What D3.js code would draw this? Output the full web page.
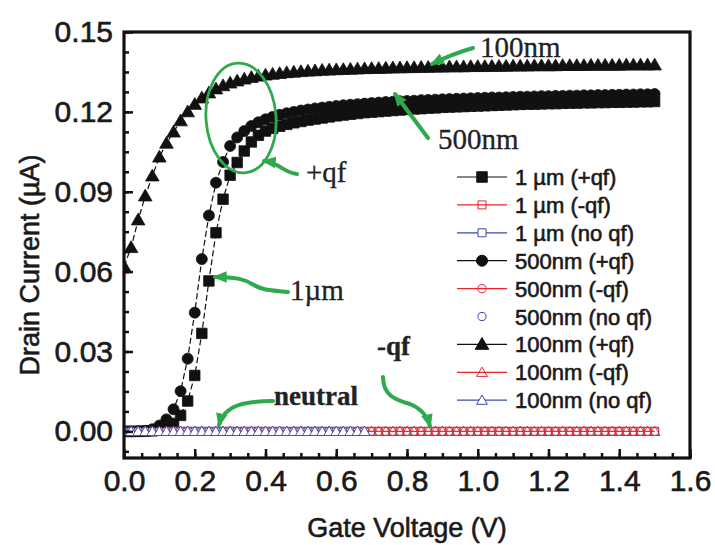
<!DOCTYPE html>
<html>
<head>
    <title>Drain Current vs Gate Voltage</title>
    <script src="https://d3js.org/d3.v7.min.js"></script>
    <style>
        body {
            margin: 0;
            background-color: white;
        }
        svg text {
            font-family: "Liberation Sans", Arial, sans-serif;
            fill: #1a1a1a;
            stroke: #1a1a1a;
            stroke-width: 0.6px;
        }
        svg text.note {
            font-family: "Liberation Serif", "Times New Roman", serif;
            fill: #222;
            stroke: #222;
            stroke-width: 0.3px;
        }
        .domain { display: none; }
    </style>
</head>
<body>
    <div id="chart"></div>
    <script>
        // gate voltage sweep (V)
        const voltage = [0.00, 0.02, 0.04, 0.06, 0.08, 0.10, 0.12, 0.14, 0.16, 0.18,
            0.20, 0.22, 0.24, 0.26, 0.28, 0.30, 0.32, 0.34, 0.36, 0.38,
            0.40, 0.42, 0.44, 0.46, 0.48, 0.50, 0.52, 0.54, 0.56, 0.58,
            0.60, 0.62, 0.64, 0.66, 0.68, 0.70, 0.72, 0.74, 0.76, 0.78,
            0.80, 0.82, 0.84, 0.86, 0.88, 0.90, 0.92, 0.94, 0.96, 0.98,
            1.00, 1.02, 1.04, 1.06, 1.08, 1.10, 1.12, 1.14, 1.16, 1.18,
            1.20, 1.22, 1.24, 1.26, 1.28, 1.30, 1.32, 1.34, 1.36, 1.38,
            1.40, 1.42, 1.44, 1.46, 1.48, 1.50];

        // drain current (uA), +qf
        const iPos1um = [0.0000, 0.0000, 0.0000, 0.0001, 0.0002, 0.0005, 0.0012, 0.0030, 0.0060, 0.0114,
            0.0210, 0.0368, 0.0565, 0.0746, 0.0872, 0.0962, 0.1010, 0.1053, 0.1087, 0.1112,
            0.1128, 0.1138, 0.1146, 0.1153, 0.1159, 0.1164, 0.1169, 0.1173, 0.1177, 0.1181,
            0.1185, 0.1188, 0.1191, 0.1194, 0.1197, 0.1199, 0.1201, 0.1203, 0.1205, 0.1207,
            0.1209, 0.1211, 0.1212, 0.1214, 0.1215, 0.1217, 0.1218, 0.1219, 0.1220, 0.1221,
            0.1222, 0.1223, 0.1224, 0.1225, 0.1226, 0.1227, 0.1228, 0.1229, 0.1229, 0.1230,
            0.1231, 0.1231, 0.1232, 0.1233, 0.1233, 0.1234, 0.1234, 0.1235, 0.1235, 0.1236,
            0.1236, 0.1237, 0.1237, 0.1238, 0.1238, 0.1239];

        const iPos500nm = [0.0000, 0.0000, 0.0001, 0.0002, 0.0008, 0.0022, 0.0045, 0.0083, 0.0151, 0.0273,
            0.0446, 0.0647, 0.0811, 0.0934, 0.1012, 0.1072, 0.1104, 0.1128, 0.1147, 0.1161,
            0.1172, 0.1181, 0.1189, 0.1195, 0.1200, 0.1205, 0.1209, 0.1213, 0.1216, 0.1219,
            0.1222, 0.1225, 0.1227, 0.1229, 0.1231, 0.1233, 0.1235, 0.1237, 0.1238, 0.1240,
            0.1241, 0.1242, 0.1244, 0.1245, 0.1246, 0.1247, 0.1248, 0.1249, 0.1250, 0.1251,
            0.1252, 0.1253, 0.1254, 0.1254, 0.1255, 0.1256, 0.1257, 0.1257, 0.1258, 0.1259,
            0.1259, 0.1260, 0.1260, 0.1261, 0.1261, 0.1262, 0.1262, 0.1263, 0.1263, 0.1264,
            0.1264, 0.1265, 0.1265, 0.1266, 0.1266, 0.1267];

        const iPos100nm = [0.0620, 0.0690, 0.0794, 0.0884, 0.0959, 0.1030, 0.1082, 0.1124, 0.1166, 0.1200,
            0.1228, 0.1252, 0.1271, 0.1286, 0.1298, 0.1308, 0.1316, 0.1323, 0.1329, 0.1334,
            0.1338, 0.1341, 0.1344, 0.1347, 0.1349, 0.1351, 0.1353, 0.1354, 0.1356, 0.1357,
            0.1358, 0.1359, 0.1360, 0.1361, 0.1362, 0.1363, 0.1363, 0.1364, 0.1365, 0.1365,
            0.1366, 0.1366, 0.1367, 0.1367, 0.1368, 0.1368, 0.1369, 0.1369, 0.1369, 0.1370,
            0.1370, 0.1370, 0.1371, 0.1371, 0.1371, 0.1372, 0.1372, 0.1372, 0.1373, 0.1373,
            0.1373, 0.1373, 0.1374, 0.1374, 0.1374, 0.1374, 0.1375, 0.1375, 0.1375, 0.1375,
            0.1375, 0.1376, 0.1376, 0.1376, 0.1376, 0.1376];

        // -qf and no qf stay at zero for every length
        const iNegQf = [0, 0, 0, 0, 0, 0, 0, 0, 0, 0, 0, 0, 0, 0, 0, 0, 0, 0, 0, 0,
            0, 0, 0, 0, 0, 0, 0, 0, 0, 0, 0, 0, 0, 0, 0, 0, 0, 0, 0, 0,
            0, 0, 0, 0, 0, 0, 0, 0, 0, 0, 0, 0, 0, 0, 0, 0, 0, 0, 0, 0,
            0, 0, 0, 0, 0, 0, 0, 0, 0, 0, 0, 0, 0, 0, 0, 0];
        const iNoQf = [0, 0, 0, 0, 0, 0, 0, 0, 0, 0, 0, 0, 0, 0, 0, 0, 0, 0, 0, 0,
            0, 0, 0, 0, 0, 0, 0, 0, 0, 0, 0, 0, 0, 0, 0, 0, 0, 0, 0, 0,
            0, 0, 0, 0, 0, 0, 0, 0, 0, 0, 0, 0, 0, 0, 0, 0, 0, 0, 0, 0,
            0, 0, 0, 0, 0, 0, 0, 0, 0, 0, 0, 0, 0, 0, 0, 0];

        const xTicks = [0.0, 0.2, 0.4, 0.6, 0.8, 1.0, 1.2, 1.4, 1.6];
        const yTicks = [0.00, 0.03, 0.06, 0.09, 0.12, 0.15];

        const RED = "#e8272c", BLUE = "#3a4ba6", GREEN = "#2eaa4c";

        // legend order = draw order
        const series = [
            { label: "1 \u00b5m (+qf)", y: iPos1um, shape: "square", color: "#111", fill: "#111", dash: "6,3", line: true, maxV: 1.5 },
            { label: "1 \u00b5m (-qf)", y: iNegQf, shape: "square", color: RED, fill: "none", dash: null, line: true, maxV: 1.5 },
            { label: "1 \u00b5m (no qf)", y: iNoQf, shape: "square", color: BLUE, fill: "white", dash: null, line: true, maxV: 1.5 },
            { label: "500nm (+qf)", y: iPos500nm, shape: "circle", color: "#111", fill: "#111", dash: "6,3", line: true, maxV: 1.5 },
            { label: "500nm (-qf)", y: iNegQf, shape: "circle", color: RED, fill: "none", dash: null, line: true, maxV: 1.5 },
            { label: "500nm (no qf)", y: iNoQf, shape: "circle", color: BLUE, fill: "white", dash: null, line: false, maxV: 0.68 },
            { label: "100nm (+qf)", y: iPos100nm, shape: "triangle", color: "#111", fill: "#111", dash: "6,3", line: true, maxV: 1.5 },
            { label: "100nm (-qf)", y: iNegQf, shape: "triangle", color: RED, fill: "none", dash: null, line: true, maxV: 1.5 },
            { label: "100nm (no qf)", y: iNoQf, shape: "triangle", color: BLUE, fill: "white", dash: null, line: true, maxV: 0.68 }
        ];

        const width = 715, height = 545;
        const margin = { left: 124, right: 25, top: 32, bottom: 87 };

        const svg = d3.select("#chart").append("svg")
            .attr("width", width)
            .attr("height", height);

        const x = d3.scaleLinear().domain([0, 1.6]).range([margin.left, width - margin.right]);
        const y = d3.scaleLinear().domain([-0.01, 0.15]).range([height - margin.bottom, margin.top]);

        const symbols = {
            square: d3.symbolSquare,
            circle: d3.symbolCircle,
            triangle: d3.symbolTriangle
        };

        function markerPath(shape, big) {
            const area = {
                square: big ? 110 : 64,
                circle: big ? 95 : 52,
                triangle: big ? 80 : 50
            }[shape];
            return d3.symbol().type(symbols[shape]).size(area)();
        }

        svg.append("clipPath").attr("id", "plot-clip")
            .append("rect")
            .attr("x", x(0)).attr("y", y(0.15))
            .attr("width", x(1.6) - x(0)).attr("height", y(-0.01) - y(0.15));

        const plot = svg.append("g").attr("clip-path", "url(#plot-clip)");

        const line = d3.line()
            .x(d => x(d[0]))
            .y(d => y(d[1]));

        series.forEach(s => {
            const pts = voltage.map((v, i) => [v, s.y[i]]).filter(d => d[0] <= s.maxV + 1e-9);
            const big = s.fill !== "none" && s.fill !== "white";
            if (s.line) {
                plot.append("path")
                    .datum(pts)
                    .attr("d", line)
                    .attr("fill", "none")
                    .attr("stroke", s.color)
                    .attr("stroke-width", big ? 1.2 : 1)
                    .attr("stroke-dasharray", s.dash);
            }
            plot.append("g")
                .selectAll("path")
                .data(pts)
                .enter()
                .append("path")
                .attr("d", markerPath(s.shape, big))
                .attr("transform", d => `translate(${x(d[0])},${y(d[1]) + (s.shape === "triangle" ? 1 : 0)})`)
                .attr("fill", s.fill)
                .attr("stroke", s.color)
                .attr("stroke-width", big ? 0.8 : 0.9);
        });

        // axes: ticks point inward
        const xMinor = d3.range(0, 1.6001, 0.05);
        const yMinor = d3.range(-0.0075, 0.1501, 0.0075);

        svg.append("g")
            .attr("transform", `translate(0,${y(-0.01)})`)
            .call(d3.axisBottom(x).tickValues(xMinor).tickSize(-5).tickFormat(""))
            .selectAll("line").attr("stroke", "#111").attr("stroke-width", 2.5);

        const xAxis = svg.append("g")
            .attr("transform", `translate(0,${y(-0.01)})`)
            .call(d3.axisBottom(x).tickValues(xTicks).tickSize(-9).tickPadding(12).tickFormat(d3.format(".1f")));
        xAxis.selectAll("line").attr("stroke", "#111").attr("stroke-width", 2.5);
        xAxis.selectAll("text").style("font-size", "30px").attr("fill", null);

        svg.append("g")
            .attr("transform", `translate(${x(0)},0)`)
            .call(d3.axisLeft(y).tickValues(yMinor).tickSize(-5).tickFormat(""))
            .selectAll("line").attr("stroke", "#111").attr("stroke-width", 2.5);

        const yAxis = svg.append("g")
            .attr("transform", `translate(${x(0)},0)`)
            .call(d3.axisLeft(y).tickValues(yTicks).tickSize(-9).tickPadding(11).tickFormat(d3.format(".2f")));
        yAxis.selectAll("line").attr("stroke", "#111").attr("stroke-width", 2.5);
        yAxis.selectAll("text").style("font-size", "30px").attr("fill", null);

        // frame
        svg.append("rect")
            .attr("x", x(0)).attr("y", y(0.15))
            .attr("width", x(1.6) - x(0)).attr("height", y(-0.01) - y(0.15))
            .attr("fill", "none")
            .attr("stroke", "#111")
            .attr("stroke-width", 3.2);

        // axis titles
        svg.append("text")
            .attr("x", (x(0) + x(1.6)) / 2)
            .attr("y", 537)
            .attr("text-anchor", "middle")
            .style("font-size", "27px")
            .text("Gate Voltage (V)");

        svg.append("text")
            .attr("transform", "translate(39,265) rotate(-90)")
            .attr("text-anchor", "middle")
            .style("font-size", "27px")
            .text("Drain Current (\u00b5A)");

        // legend
        const legend = svg.append("g").attr("transform", "translate(457,177)");
        series.forEach((s, i) => {
            const row = legend.append("g").attr("transform", `translate(0,${i * 27.9})`);
            const big = s.fill !== "none" && s.fill !== "white";
            if (s.line) {
                row.append("line")
                    .attr("x1", 0).attr("x2", 50)
                    .attr("stroke", s.color)
                    .attr("stroke-width", 1.2);
            }
            row.append("path")
                .attr("d", markerPath(s.shape, big))
                .attr("transform", `translate(25,${s.shape === "triangle" ? 1 : 0})`)
                .attr("fill", s.fill)
                .attr("stroke", s.color)
                .attr("stroke-width", 1);
            row.append("text")
                .attr("x", 58)
                .attr("y", 8)
                .style("font-size", "22px")
                .text(s.label);
        });

        // green annotations
        const defs = svg.append("defs");
        defs.append("marker")
            .attr("id", "head")
            .attr("markerUnits", "userSpaceOnUse")
            .attr("viewBox", "0 0 12 10")
            .attr("refX", 10).attr("refY", 5)
            .attr("markerWidth", 14).attr("markerHeight", 12)
            .attr("orient", "auto")
            .append("path")
            .attr("d", "M0,0 L12,5 L0,10 Z")
            .attr("fill", GREEN);

        const arrows = [
            "M473,48 Q452,54 432,64",
            "M428,138 L395,94",
            "M297,174 C284,173 280,163 264,161",
            "M288,292 C268,290 262,290 252,284 C244,279 235,277 215,277",
            "M273,401 C245,401 224,405 219,425",
            "M383,377 C383,395 395,400 410,404 C420,408 427,415 430,426"
        ];
        arrows.forEach(d => {
            svg.append("path")
                .attr("d", d)
                .attr("fill", "none")
                .attr("stroke", GREEN)
                .attr("stroke-width", 4)
                .attr("stroke-linecap", "round")
                .attr("marker-end", "url(#head)");
        });

        svg.append("ellipse")
            .attr("cx", 241).attr("cy", 118)
            .attr("rx", 35).attr("ry", 55)
            .attr("transform", "rotate(-4,241,118)")
            .attr("fill", "none")
            .attr("stroke", GREEN)
            .attr("stroke-width", 2.8);

        const notes = [
            { t: "100nm", x: 480, y: 57, bold: false },
            { t: "500nm", x: 438, y: 149, bold: false },
            { t: "+qf", x: 306, y: 182, bold: false },
            { t: "1\u00b5m", x: 290, y: 300, bold: false },
            { t: "neutral", x: 274, y: 405, bold: true },
            { t: "-qf", x: 377, y: 355, bold: true }
        ];
        notes.forEach(n => {
            svg.append("text")
                .attr("class", "note")
                .attr("x", n.x).attr("y", n.y)
                .style("font-size", n.bold ? "27px" : "29px")
                .style("font-weight", n.bold ? "bold" : "normal")
                .text(n.t);
        });
    </script>
</body>
</html>
